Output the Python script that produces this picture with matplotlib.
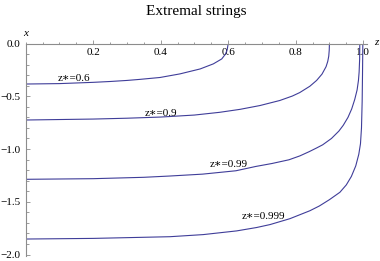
import matplotlib
matplotlib.use("Agg")
from matplotlib import pyplot as plt
from matplotlib.ticker import MultipleLocator, FixedLocator

plt.rcParams['font.family'] = ['Liberation Serif', 'DejaVu Serif']

# profiles: z along the horizontal axis, x down the vertical one
z_06 = [0, 0.1, 0.2, 0.25, 0.3, 0.338, 0.398, 0.457, 0.517, 0.556, 0.581, 0.592, 0.597, 0.6]
x_06 = [-0.384, -0.380, -0.368, -0.360, -0.350, -0.340, -0.322, -0.288, -0.241, -0.193,
        -0.146, -0.10, -0.06, 0]

z_09 = [0, 0.2, 0.3, 0.4, 0.5, 0.575, 0.635, 0.694, 0.753, 0.79, 0.812, 0.842, 0.862,
        0.878, 0.89, 0.895, 0.898, 0.8995, 0.9]
x_09 = [-0.725, -0.716, -0.708, -0.697, -0.678, -0.652, -0.624, -0.588, -0.540, -0.498,
        -0.465, -0.405, -0.35, -0.29, -0.22, -0.17, -0.12, -0.06, 0]

z_099 = [0, 0.2, 0.35, 0.426, 0.524, 0.623, 0.682, 0.73, 0.78, 0.8125, 0.84, 0.862, 0.88,
         0.906, 0.928, 0.941, 0.955, 0.966, 0.975, 0.982, 0.986, 0.988, 0.9895, 0.99]
x_099 = [-1.287, -1.281, -1.268, -1.256, -1.238, -1.206, -1.165, -1.137, -1.102, -1.065,
         -1.025, -0.99, -0.96, -0.90, -0.83, -0.775, -0.70, -0.62, -0.53, -0.44, -0.35,
         -0.27, -0.15, 0]

z_0999 = [0, 0.2, 0.427, 0.526, 0.625, 0.684, 0.724, 0.783, 0.842, 0.87, 0.9, 0.931,
          0.95, 0.965, 0.978, 0.987, 0.992, 0.995, 0.997, 0.998, 0.999]
x_0999 = [-1.853, -1.847, -1.831, -1.811, -1.776, -1.744, -1.716, -1.66, -1.585, -1.54,
          -1.48, -1.41, -1.34, -1.26, -1.16, -1.05, -0.95, -0.8, -0.55, -0.3, 0]

labels = ["z∗=0.6", "z∗=0.9", "z∗=0.99", "z∗=0.999"]
label_z = [0.143, 0.401, 0.602, 0.704]
label_x = [-0.327, -0.662, -1.145, -1.635]

line_col = '#3f3d99'
axis_col = '#8c8c8c'

fig = plt.figure(figsize=(3.8, 2.61), dpi=100)
ax = fig.add_axes([0.0676, 0.0207, 0.897, 0.8126])

for zs, xs in [(z_06, x_06), (z_09, x_09), (z_099, x_099), (z_0999, x_0999)]:
    ax.plot(zs, xs, color=line_col, lw=0.8)

for t, zz, xx in zip(labels, label_z, label_x):
    ax.text(zz, xx, t, fontsize=8, ha='center', va='center')

ax.set_xlim(0, 1.01)
ax.set_ylim(-2.01, 0)

for s in ['top', 'right']:
    ax.spines[s].set_visible(False)
ax.spines['bottom'].set_position(('data', 0))
ax.spines['left'].set_position(('data', 0))
for s in ['bottom', 'left']:
    ax.spines[s].set_color(axis_col)
    ax.spines[s].set_linewidth(0.8)

ax.xaxis.set_major_locator(FixedLocator([0.2, 0.4, 0.6, 0.8, 1.0]))
ax.xaxis.set_minor_locator(MultipleLocator(0.05))
ax.yaxis.set_major_locator(MultipleLocator(0.5))
ax.yaxis.set_minor_locator(MultipleLocator(0.1))
ax.xaxis.set_major_formatter(lambda v, p: f"{v:.1f}")
ax.yaxis.set_major_formatter(lambda v, p: f"{v:.1f}".replace('-', '\u2212'))

ax.tick_params(which='both', direction='in', color=axis_col, width=0.6,
               labelsize=8, labelcolor='black')
ax.tick_params(which='major', length=3.2)
ax.tick_params(which='minor', length=1.8)
ax.tick_params(axis='x', pad=3.5)
ax.tick_params(axis='y', pad=3.5)

ax.set_ylabel('x', rotation=0, style='italic', fontsize=8, ha='center', va='center')
ax.yaxis.set_label_coords(0, 1.048)
ax.set_xlabel('z', style='italic', fontsize=8, ha='center', va='center')
ax.xaxis.set_label_coords(1.029, 1.007)

ax.set_title('Extremal strings', fontsize=11, y=1.134, pad=0)

fig.savefig('out.png', dpi=100)
